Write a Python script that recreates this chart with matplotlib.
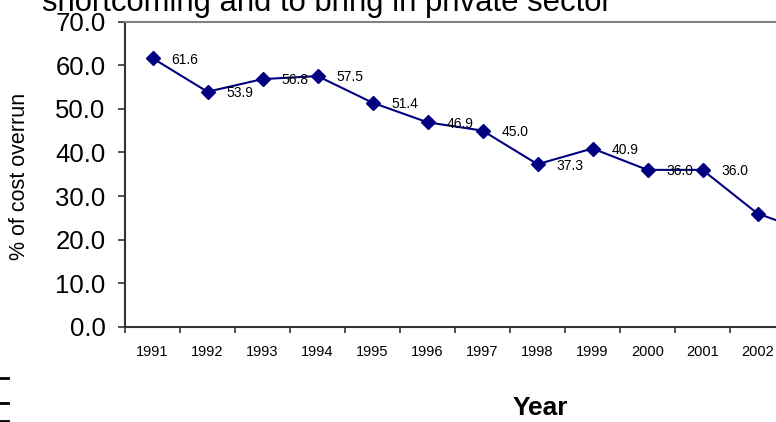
import matplotlib.pyplot as plt
from matplotlib.lines import Line2D
import numpy as np

plt.rcParams['font.family'] = ['Liberation Sans', 'DejaVu Sans']

years = ['1991', '1992', '1993', '1994', '1995', '1996', '1997',
         '1998', '1999', '2000', '2001', '2002', '2003']
overrun = [61.6, 53.9, 56.8, 57.5, 51.4, 46.9, 45.0,
           37.3, 40.9, 36.0, 36.0, 26.0, 21.5]
yticks = [0, 10, 20, 30, 40, 50, 60, 70]

fig = plt.figure(figsize=(7.76, 4.22), dpi=100)
ax = fig.add_axes([125 / 776, 1 - 327 / 422, 13 * 55 / 776, (327 - 21.5) / 422])

x = np.arange(len(years))
ax.plot(x, overrun, color='#000080', lw=1.5, marker='D', markersize=7,
        markerfacecolor='#000080', markeredgecolor='#000080', clip_on=False)

# value labels to the right of each point
for xi, v in zip(x, overrun):
    ax.annotate(f"{v:.1f}", (xi, v), xytext=(13.5, -1), textcoords='offset points',
                ha='left', va='center', fontsize=10, color='black')

ax.set_xlim(-0.5, len(years) - 0.5)
ax.set_ylim(0, 70)

# ticks between categories, labels at category centres
ax.set_xticks(np.arange(len(years) + 1) - 0.5)
ax.set_xticklabels([])
ax.set_xticks(x, minor=True)
ax.set_xticklabels(years, minor=True, fontsize=10.5)
ax.tick_params(axis='x', which='major', direction='out', length=4, width=1.2, color='#333333')
ax.tick_params(axis='x', which='minor', length=0, pad=13)

ax.set_yticks(yticks)
ax.set_yticklabels([f"{t:.1f}" for t in yticks], fontsize=18.5)
ax.tick_params(axis='y', direction='out', length=5, width=1.2, color='#333333', pad=9)

for side in ['left', 'bottom']:
    ax.spines[side].set_color('#333333')
    ax.spines[side].set_linewidth(1.5)
ax.spines['top'].set_color('#808080')
ax.spines['top'].set_linewidth(1.5)
ax.spines['right'].set_visible(False)

ax.set_ylabel('% of cost overrun', fontsize=15.5)
ax.yaxis.set_label_coords(30 / 776, 1 - 176 / 422, transform=fig.transFigure)
fig.text(540 / 776, 1 - 408 / 422, 'Year', fontsize=19, fontweight='bold',
         ha='center', va='center')

fig.text(42 / 776, 1 - 11 / 422, 'shortcoming and to bring in private sector',
         fontsize=22.3, ha='left', va='baseline')

# edge marks at the lower left
for yy in [378, 403, 421]:
    fig.add_artist(Line2D([0, 8 / 776], [1 - yy / 422] * 2, color='black', lw=2))

fig.savefig('out.png', dpi=100)
